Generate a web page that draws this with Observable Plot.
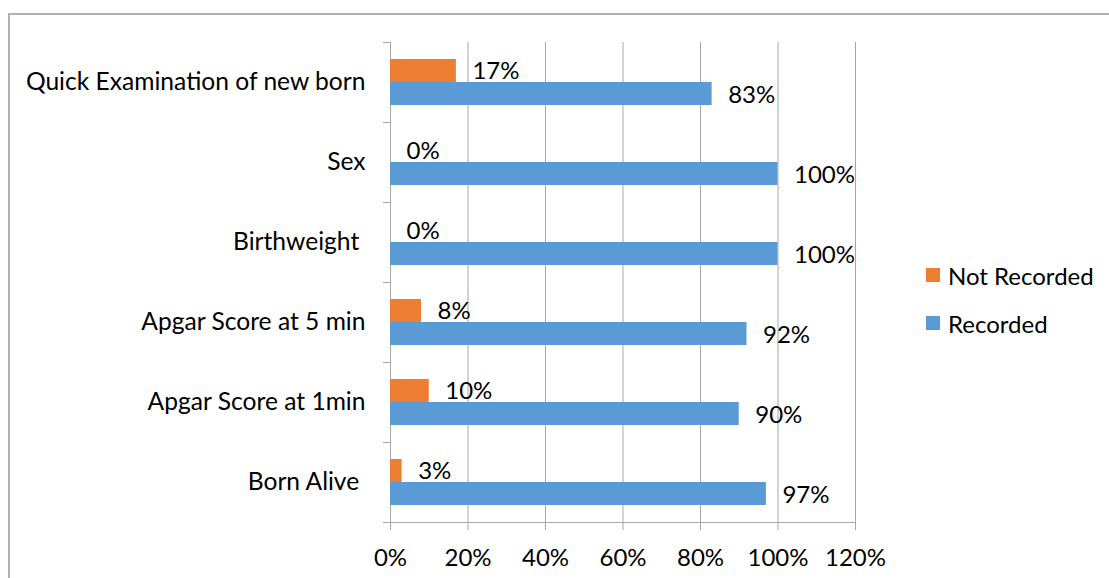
<!DOCTYPE html>
<html>
<head>
<meta charset="utf-8">
<script src="https://cdn.jsdelivr.net/npm/d3@7"></script>
<script src="https://cdn.jsdelivr.net/npm/@observablehq/plot@0.6"></script>
<style>
  html, body { margin: 0; padding: 0; background: #fff; }
  #wrap { position: relative; width: 1109px; height: 578px; overflow: hidden; font-family: Lato, "Open Sans", sans-serif; }
  #border { position: absolute; left: 8px; top: 13px; width: 1110px; height: 600px; border-top: 2px solid #b0b0b0; border-left: 2px solid #b0b0b0; box-sizing: border-box; }
  #chart { position: absolute; left: 0; top: 0; }
  #legend { position: absolute; left: 926px; top: 258px; font-size: 24px; color: #000; }
  .item { display: flex; align-items: center; height: 34px; margin-bottom: 14px; }
  .sw { width: 14px; height: 14px; margin-right: 8px; }
</style>
</head>
<body>
<div id="wrap">
  <div id="border"></div>
  <div id="chart"></div>
  <div id="legend"></div>
</div>
<script>
const categories = ["Quick Examination of new born", "Sex", "Birthweight\u00a0", "Apgar Score at 5 min", "Apgar Score at 1min", "Born Alive\u00a0"];
const notRecorded = [17, 0, 0, 8, 10, 3];
const recorded = [83, 100, 100, 92, 90, 97];
const seriesNames = ["Not Recorded", "Recorded"];
const seriesColors = ["#ED7D31", "#5B9BD5"];
const xTicks = [0, 20, 40, 60, 80, 100, 120];

const rowsNot = categories.map((c, i) => ({category: c, value: notRecorded[i], series: seriesNames[0]}));
const rowsRec = categories.map((c, i) => ({category: c, value: recorded[i], series: seriesNames[1]}));

const FS = 24;
const FSY = 24.6;
const grey = "#a6a6a6";

const plot = Plot.plot({
  width: 1109,
  height: 578,
  marginLeft: 390,
  marginRight: 254,
  marginTop: 42,
  marginBottom: 56,
  style: {fontFamily: "Lato, 'Open Sans', sans-serif", fontSize: FS + "px", color: "#000", background: "transparent"},
  x: {domain: [0, 120], label: null},
  y: {domain: categories, padding: 0, label: null},
  color: {domain: seriesNames, range: seriesColors},
  marks: [
    Plot.gridX({ticks: xTicks, stroke: grey, strokeOpacity: 1}),
    Plot.frame({anchor: "bottom", stroke: grey, strokeOpacity: 1}),
    Plot.barX(rowsNot, {x: "value", y: "category", fill: "series", insetTop: 17, insetBottom: 40}),
    Plot.barX(rowsRec, {x: "value", y: "category", fill: "series", insetTop: 40, insetBottom: 17}),
    Plot.text(rowsNot, {x: "value", y: "category", text: d => d.value + "%", textAnchor: "start", dx: 16, dy: -11, fontSize: FS, fill: "#000"}),
    Plot.text(rowsRec, {x: "value", y: "category", text: d => d.value + "%", textAnchor: "start", dx: 16, dy: 13, fontSize: FS, fill: "#000"}),
    Plot.axisX({ticks: xTicks, tickFormat: d => d + "%", tickSize: 8, tickPadding: 18, stroke: grey, fontSize: FS, fill: "#000", label: null}),
    Plot.axisY({tickSize: 0, tickPadding: 25, fontSize: FSY, fill: "#000", label: null}),
    Plot.axisY({tickSize: 7, text: null, dy: -40, stroke: grey, label: null}),
    Plot.axisY({ticks: [categories[categories.length - 1]], tickSize: 7, text: null, dy: 40, stroke: grey, label: null})
  ]
});
document.getElementById("chart").appendChild(plot);

const legend = document.getElementById("legend");
seriesNames.forEach((s, i) => {
  const item = document.createElement("div");
  item.className = "item";
  const sw = document.createElement("div");
  sw.className = "sw";
  sw.style.background = seriesColors[i];
  const t = document.createElement("span");
  t.textContent = s;
  item.appendChild(sw);
  item.appendChild(t);
  legend.appendChild(item);
});
</script>
</body>
</html>
